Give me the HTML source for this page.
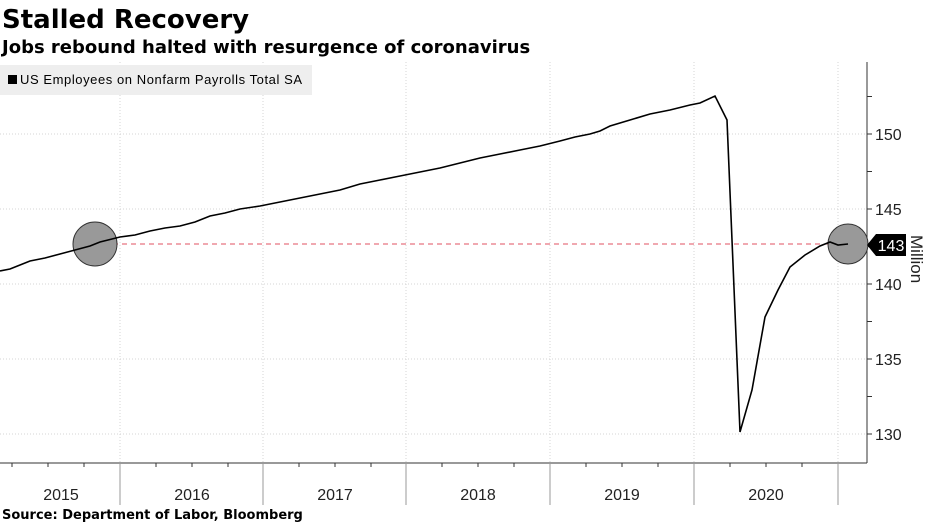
<!DOCTYPE html>
<html><head><meta charset="utf-8"><style>
body{margin:0;background:#fff;width:930px;height:523px;overflow:hidden;font-family:"DejaVu Sans","Liberation Sans",sans-serif}
</style></head><body>
<svg width="930" height="523" xmlns="http://www.w3.org/2000/svg" font-family="DejaVu Sans, Liberation Sans, sans-serif">
<text x="2" y="28" font-size="26" font-weight="bold" fill="#000">Stalled Recovery</text>
<text x="2" y="53" font-size="18" font-weight="bold" fill="#000">Jobs rebound halted with resurgence of coronavirus</text>
<g stroke="#d4d4d4" stroke-dasharray="1,2" stroke-width="1">
<line x1="0" y1="134" x2="867" y2="134"/><line x1="0" y1="209" x2="867" y2="209"/><line x1="0" y1="284" x2="867" y2="284"/><line x1="0" y1="359" x2="867" y2="359"/><line x1="0" y1="434" x2="867" y2="434"/>
<line x1="120" y1="62" x2="120" y2="463"/><line x1="263" y1="62" x2="263" y2="463"/><line x1="406" y1="62" x2="406" y2="463"/><line x1="550" y1="62" x2="550" y2="463"/><line x1="694" y1="62" x2="694" y2="463"/><line x1="838" y1="62" x2="838" y2="463"/>
</g>
<rect x="0" y="65" width="312" height="30" fill="#eee"/>
<rect x="8" y="75" width="9" height="9" fill="#000"/>
<text x="20" y="84" font-size="13" fill="#000" font-family="Liberation Sans, sans-serif" textLength="282">US Employees on Nonfarm Payrolls Total SA</text>
<line x1="0" y1="463" x2="867" y2="463" stroke="#333"/>
<line x1="867" y1="62" x2="867" y2="463" stroke="#333"/>
<g stroke="#999"><line x1="120" y1="463" x2="120" y2="505"/><line x1="263" y1="463" x2="263" y2="505"/><line x1="406" y1="463" x2="406" y2="505"/><line x1="550" y1="463" x2="550" y2="505"/><line x1="694" y1="463" x2="694" y2="505"/><line x1="838" y1="463" x2="838" y2="505"/></g>
<g stroke="#333">
<line x1="12" y1="463" x2="12" y2="467"/><line x1="48" y1="463" x2="48" y2="467"/><line x1="84" y1="463" x2="84" y2="467"/>
<line x1="156" y1="463" x2="156" y2="467"/><line x1="192" y1="463" x2="192" y2="467"/><line x1="228" y1="463" x2="228" y2="467"/>
<line x1="299" y1="463" x2="299" y2="467"/><line x1="335" y1="463" x2="335" y2="467"/><line x1="371" y1="463" x2="371" y2="467"/>
<line x1="442" y1="463" x2="442" y2="467"/><line x1="478" y1="463" x2="478" y2="467"/><line x1="514" y1="463" x2="514" y2="467"/>
<line x1="586" y1="463" x2="586" y2="467"/><line x1="622" y1="463" x2="622" y2="467"/><line x1="658" y1="463" x2="658" y2="467"/>
<line x1="730" y1="463" x2="730" y2="467"/><line x1="766" y1="463" x2="766" y2="467"/><line x1="802" y1="463" x2="802" y2="467"/>
<line x1="867" y1="96.5" x2="872" y2="96.5"/><line x1="867" y1="134" x2="872" y2="134"/><line x1="867" y1="171.5" x2="872" y2="171.5"/><line x1="867" y1="209" x2="872" y2="209"/><line x1="867" y1="246.5" x2="872" y2="246.5"/><line x1="867" y1="284" x2="872" y2="284"/><line x1="867" y1="321.5" x2="872" y2="321.5"/><line x1="867" y1="359" x2="872" y2="359"/><line x1="867" y1="396.5" x2="872" y2="396.5"/><line x1="867" y1="434" x2="872" y2="434"/>
</g>
<g font-size="16" fill="#222" font-family="Liberation Sans, sans-serif">
<text x="875" y="140">150</text><text x="875" y="215">145</text><text x="875" y="290">140</text><text x="875" y="365">135</text><text x="875" y="440">130</text>
</g>
<g font-size="16" fill="#222" text-anchor="middle" font-family="Liberation Sans, sans-serif">
<text x="61" y="500">2015</text><text x="192" y="500">2016</text><text x="335" y="500">2017</text><text x="478" y="500">2018</text><text x="622" y="500">2019</text><text x="766" y="500">2020</text>
</g>
<line x1="95" y1="244" x2="848" y2="244" stroke="#e05060" stroke-dasharray="5,4" stroke-width="1"/>
<circle cx="95" cy="244" r="22" fill="#999" stroke="#333" stroke-width="1"/>
<circle cx="848" cy="244" r="20" fill="#999" stroke="#333" stroke-width="1"/>
<polyline fill="none" stroke="#000" stroke-width="1.6" points="0,271 10,269 20,265 30,261 45,258 60,254 75,250 90,246 100,242 120,237 135,235 150,231 165,228 180,226 195,222 210,216 225,213 240,209 260,206 280,202 300,198 320,194 340,190 360,184 380,180 400,176 420,172 430,170 440,168 460,163 480,158 500,154 520,150 540,146 560,141 575,137 590,134 600,131 610,126 630,120 650,114 670,110 690,105 700,103 715,96 727,120 740,432 752,390 765,317 778,290 790,267 805,255 820,246 830,242 838,245 848,244"/>
<polygon points="867,245 876,234 906,234 906,256 876,256" fill="#000"/>
<text x="891" y="251" font-size="16" fill="#fff" text-anchor="middle" font-family="Liberation Sans, sans-serif">143</text>
<text transform="translate(911,235) rotate(90)" font-size="17" fill="#222" font-family="Liberation Sans, sans-serif">Million</text>
<text x="2" y="519" font-size="13" font-weight="bold" fill="#000">Source: Department of Labor, Bloomberg</text>
</svg>
</body></html>
